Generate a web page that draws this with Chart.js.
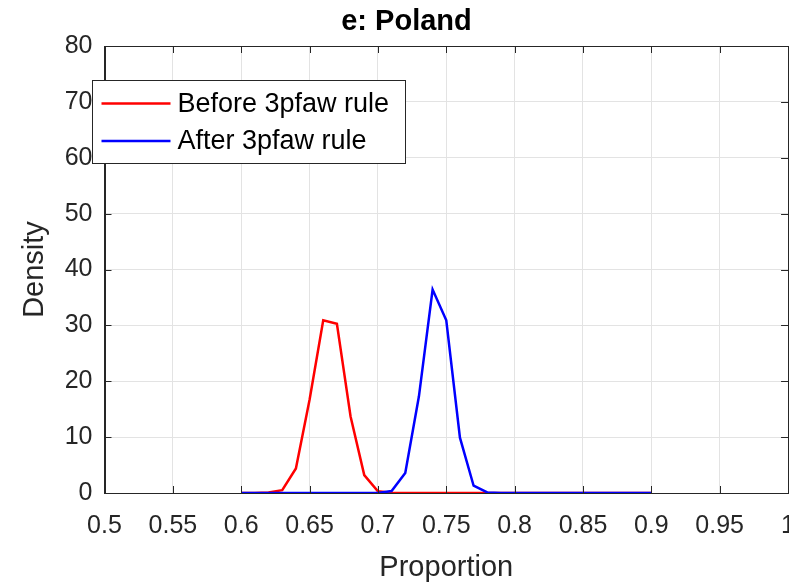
<!DOCTYPE html>
<html>
<head>
<meta charset="utf-8">
<script src="https://cdn.jsdelivr.net/npm/chart.js@4.4.1/dist/chart.umd.min.js"></script>
<style>
  html, body { margin: 0; padding: 0; background: #ffffff; overflow: hidden; width: 789px; height: 587px; }
  #wrap { position: relative; width: 813px; height: 587px; }
</style>
</head>
<body>
<div id="wrap"><canvas id="c" width="813" height="587"></canvas></div>
<script>
// Proportion grid (x values) shared by both density curves
const proportion = [0.60, 0.61, 0.62, 0.63, 0.64, 0.65, 0.66, 0.67, 0.68, 0.69, 0.70,
                    0.71, 0.72, 0.73, 0.74, 0.75, 0.76, 0.77, 0.78, 0.79, 0.80,
                    0.81, 0.82, 0.83, 0.84, 0.85, 0.86, 0.87, 0.88, 0.89, 0.90];

// Density before the 3pfaw rule
const beforeRule = [0, 0, 0.1, 0.5, 4.4, 16.7, 30.9, 30.3, 13.7, 3.2, 0.3,
                    0.05, 0, 0, 0, 0, 0, 0, 0, 0, 0,
                    0, 0, 0, 0, 0, 0, 0, 0, 0, 0];

// Density after the 3pfaw rule
const afterRule = [0, 0, 0, 0, 0, 0, 0, 0, 0, 0, 0,
                   0.35, 3.6, 17.3, 36.4, 30.9, 9.9, 1.3, 0.1, 0, 0,
                   0, 0, 0, 0, 0, 0, 0, 0, 0, 0];

const xTickLabels = ['0.5', '0.55', '0.6', '0.65', '0.7', '0.75', '0.8', '0.85', '0.9', '0.95', '1'];
const yTickLabels = ['0', '10', '20', '30', '40', '50', '60', '70', '80'];

const seriesNames = ['Before 3pfaw rule', 'After 3pfaw rule'];
const seriesColors = ['#ff0000', '#0000ff'];

const FONT = '"Liberation Sans", Arial, Helvetica, sans-serif';
const AXIS_COLOR = '#262626';

const toPoints = (ys) => proportion.map((x, i) => ({ x: x, y: ys[i] }));

// Box around the plot area with inward-pointing tick marks on all four sides
const boxAndTicks = {
  id: 'boxAndTicks',
  afterDatasetsDraw(chart) {
    const { ctx, chartArea: a, scales: { x, y } } = chart;
    const len = 7;
    ctx.save();
    ctx.strokeStyle = AXIS_COLOR;
    ctx.lineWidth = 1;
    ctx.beginPath();
    x.ticks.forEach(t => {
      const px = Math.round(x.getPixelForValue(t.value)) + 0.5;
      ctx.moveTo(px, a.bottom); ctx.lineTo(px, a.bottom - len);
      ctx.moveTo(px, a.top); ctx.lineTo(px, a.top + len);
    });
    y.ticks.forEach(t => {
      const py = Math.round(y.getPixelForValue(t.value)) + 0.5;
      ctx.moveTo(a.left, py); ctx.lineTo(a.left + len, py);
      ctx.moveTo(a.right, py); ctx.lineTo(a.right - len, py);
    });
    ctx.stroke();
    ctx.strokeRect(Math.round(a.left) + 0.5, Math.round(a.top) + 0.5,
                   Math.round(a.right) - Math.round(a.left), Math.round(a.bottom) - Math.round(a.top));
    ctx.restore();
  }
};

// Boxed legend in the upper-left corner of the plot
const boxedLegend = {
  id: 'boxedLegend',
  afterDraw(chart) {
    const { ctx, chartArea: a } = chart;
    const left = Math.round(a.left) - 12.5;
    const top = Math.round(a.top) + 34.5;
    const w = 313, h = 83;
    ctx.save();
    ctx.fillStyle = '#ffffff';
    ctx.fillRect(left, top, w, h);
    ctx.strokeStyle = AXIS_COLOR;
    ctx.lineWidth = 1;
    ctx.strokeRect(left, top, w, h);
    ctx.font = '27px ' + FONT;
    ctx.textBaseline = 'middle';
    ctx.textAlign = 'left';
    chart.data.datasets.slice().sort((p, q) => seriesNames.indexOf(p.label) - seriesNames.indexOf(q.label))
      .forEach((ds, i) => {
        const cy = top + 23 + i * 37.5;
        ctx.strokeStyle = ds.borderColor;
        ctx.lineWidth = 2.5;
        ctx.beginPath();
        ctx.moveTo(left + 9, cy);
        ctx.lineTo(left + 78, cy);
        ctx.stroke();
        ctx.fillStyle = '#000000';
        ctx.fillText(ds.label, left + 85, cy + 1);
      });
    ctx.restore();
  }
};

new Chart(document.getElementById('c'), {
  type: 'line',
  data: {
    datasets: [
      { label: seriesNames[0], data: toPoints(beforeRule), borderColor: seriesColors[0],
        borderWidth: 2.5, pointRadius: 0, tension: 0, fill: false, order: 2 },
      { label: seriesNames[1], data: toPoints(afterRule), borderColor: seriesColors[1],
        borderWidth: 2.5, pointRadius: 0, tension: 0, fill: false, order: 1 }
    ]
  },
  options: {
    responsive: false,
    animation: false,
    events: [],
    layout: { padding: { left: 0, right: 0, top: 0, bottom: 0 } },
    plugins: {
      legend: { display: false },
      tooltip: { enabled: false },
      title: {
        display: true,
        text: 'e: Poland',
        color: '#000000',
        font: { family: FONT, size: 29, weight: 'bold', lineHeight: 1.2 },
        padding: { top: 4.6, bottom: 6.6 }
      }
    },
    scales: {
      x: {
        type: 'linear',
        min: 0.5, max: 1,
        afterFit(scale) { scale.height = 94; },
        ticks: {
          stepSize: 0.05,
          color: AXIS_COLOR,
          padding: 18,
          maxRotation: 0,
          autoSkip: false,
          font: { family: FONT, size: 25, lineHeight: 1.2 },
          callback: (v, i) => xTickLabels[i]
        },
        grid: { color: '#e3e3e3', lineWidth: 1, drawTicks: false },
        border: { display: true, color: AXIS_COLOR, width: 1 },
        title: {
          display: true, text: 'Proportion', color: AXIS_COLOR,
          font: { family: FONT, size: 29, lineHeight: 1.2 },
          padding: { top: 0, bottom: 1.6 }
        }
      },
      y: {
        type: 'linear',
        min: 0, max: 80,
        afterFit(scale) { scale.width = 104.5; },
        ticks: {
          stepSize: 10,
          color: AXIS_COLOR,
          padding: 12,
          font: { family: FONT, size: 25, lineHeight: 1.2 },
          callback: (v, i) => yTickLabels[i]
        },
        grid: { color: '#e3e3e3', lineWidth: 1, drawTicks: false },
        border: { display: true, color: AXIS_COLOR, width: 1 },
        title: {
          display: true, text: 'Density', color: AXIS_COLOR,
          font: { family: FONT, size: 29, lineHeight: 1.2 },
          padding: { top: 17.6, bottom: 0 }
        }
      }
    }
  },
  plugins: [boxAndTicks, boxedLegend]
});
</script>
</body>
</html>
